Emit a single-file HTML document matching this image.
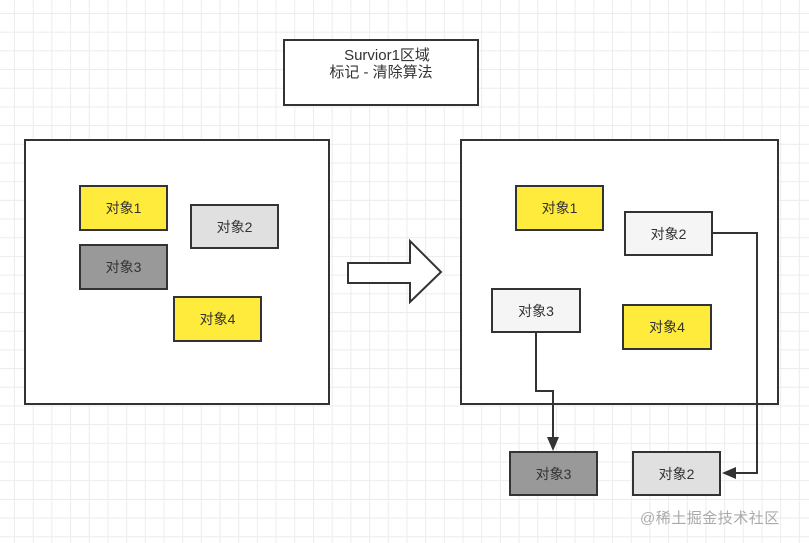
<!DOCTYPE html>
<html><head><meta charset="utf-8"><style>
html,body{margin:0;padding:0}
body{width:809px;height:543px;overflow:hidden;background-color:#fff;
background-image:linear-gradient(#ececec 1px,transparent 1px),linear-gradient(90deg,#ececec 1px,transparent 1px);
background-size:18.7px 18.7px;background-position:14px 13px;position:relative;
font-family:"Liberation Sans","Noto Sans CJK SC",sans-serif}
.b{position:absolute;box-sizing:border-box;border:2px solid #333;display:flex;align-items:center;justify-content:center;font-size:14px;color:#333}
.y{background:#ffeb3b}.g1{background:#e0e0e0}.g2{background:#999}.g3{background:#f5f5f5}.w{background:#fff}
</style></head><body>
<div class="b w" style="left:283px;top:39px;width:196px;height:67px;flex-direction:column;justify-content:flex-start;padding-top:6px;font-size:15px;line-height:17px">
<div style="padding-left:12px">Survior1区域</div><div>标记 - 清除算法</div></div>
<div class="b w" style="left:24px;top:139px;width:306px;height:266px"></div>
<div class="b y" style="left:79px;top:185px;width:89px;height:46px">对象1</div>
<div class="b g1" style="left:190px;top:204px;width:89px;height:45px">对象2</div>
<div class="b g2" style="left:79px;top:244px;width:89px;height:46px">对象3</div>
<div class="b y" style="left:173px;top:296px;width:89px;height:46px">对象4</div>
<div class="b w" style="left:460px;top:139px;width:319px;height:266px"></div>
<div class="b y" style="left:515px;top:185px;width:89px;height:46px">对象1</div>
<div class="b g3" style="left:624px;top:211px;width:89px;height:45px">对象2</div>
<div class="b g3" style="left:491px;top:288px;width:90px;height:45px">对象3</div>
<div class="b y" style="left:622px;top:304px;width:90px;height:46px">对象4</div>
<div class="b g2" style="left:509px;top:451px;width:89px;height:45px">对象3</div>
<div class="b g1" style="left:632px;top:451px;width:89px;height:45px">对象2</div>
<svg width="809" height="543" style="position:absolute;left:0;top:0">
<polygon points="348,263 410,263 410,241 441,272 410,302 410,283 348,283" fill="#fff" stroke="#333" stroke-width="2"/>
<polyline points="712,233 757,233 757,473 735,473" fill="none" stroke="#333" stroke-width="2"/>
<polygon points="722,473 736,467 736,479" fill="#333"/>
<polyline points="536,333 536,391 553,391 553,438" fill="none" stroke="#333" stroke-width="2"/>
<polygon points="553,451 547,437 559,437" fill="#333"/>
</svg>
<div style="position:absolute;left:640px;top:507px;font-size:15px;color:#aaa;letter-spacing:0.5px">@稀土掘金技术社区</div>
</body></html>
